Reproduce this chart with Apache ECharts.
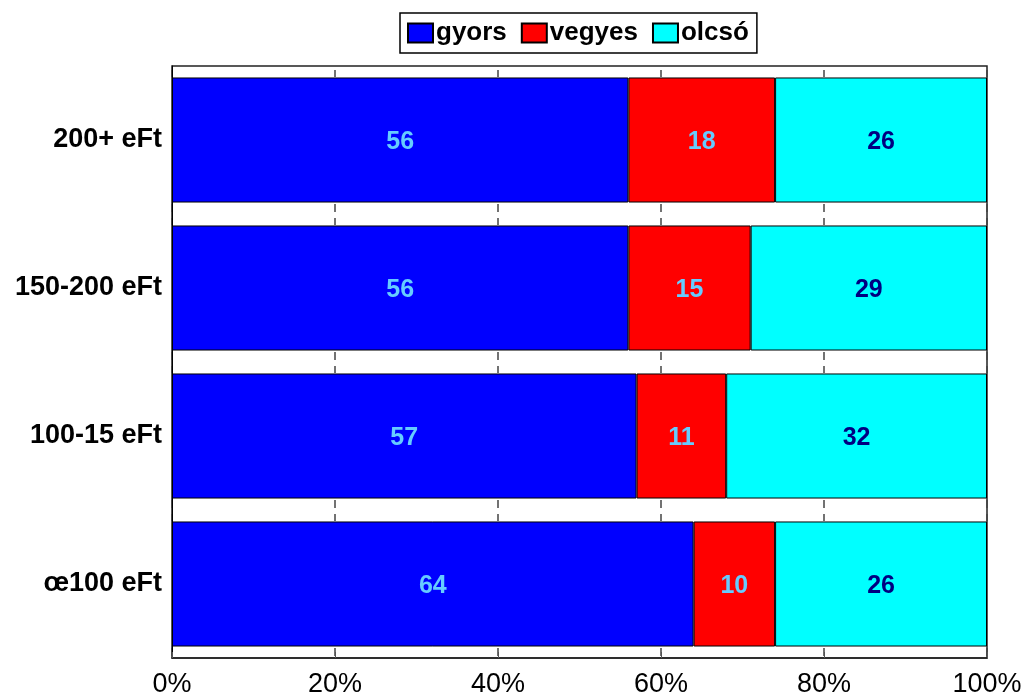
<!DOCTYPE html>
<html>
<head>
<meta charset="utf-8">
<script src="https://cdn.jsdelivr.net/npm/echarts@6/dist/echarts.min.js"></script>
<style>
  html, body { margin: 0; padding: 0; background: #fff; }
  #chart { width: 1028px; height: 700px; }
</style>
</head>
<body>
<div id="chart"></div>
<script>
  var FONT = 'Arial, "Liberation Sans", sans-serif';
  var categories = ["\u0153100 eFt", "100-15 eFt", "150-200 eFt", "200+ eFt"];
  var gyors = [64, 57, 56, 56];
  var vegyes = [10, 11, 15, 18];
  var olcso = [26, 32, 29, 26];
  var seriesNames = ["gyors", "vegyes", "olcs\u00f3"];
  var seriesColors = ["#0000ff", "#ff0000", "#00ffff"];
  var labelColors = ["#66ccff", "#66ccff", "#000080"];

  function bar(name, data, i) {
    return {
      name: name, type: "bar", stack: "total", data: data,
      barCategoryGap: "15.5%",
      itemStyle: { color: seriesColors[i], borderColor: "#000", borderWidth: 1 },
      label: { show: true, position: "inside", offset: [0, 2], color: labelColors[i], fontFamily: FONT, fontWeight: "bold", fontSize: 25 },
      emphasis: { disabled: true }
    };
  }

  var chart = echarts.init(document.getElementById("chart"), null, { renderer: "canvas" });
  chart.setOption({
    animation: false,
    legend: {
      left: 400, top: 13,
      padding: [7, 8, 7, 7],
      borderColor: "#000", borderWidth: 1.5,
      itemWidth: 25, itemHeight: 19, itemGap: 14,
      textStyle: { fontFamily: FONT, fontWeight: "bold", fontSize: 26, color: "#000", padding: [0, 0, 0, -2] },
      data: seriesNames.map(function (n) { return { name: n, icon: "rect" }; })
    },
    grid: { left: 172, right: 41, top: 66, height: 592, show: true, borderColor: "#222", borderWidth: 1.5, containLabel: false },
    xAxis: {
      type: "value", min: 0, max: 100, interval: 20,
      axisLine: { show: true, lineStyle: { color: "#222", width: 1.5 } },
      axisTick: { show: true, inside: true, length: 6, lineStyle: { color: "#555" } },
      axisLabel: { formatter: "{value}%", fontFamily: FONT, fontSize: 27, color: "#000", margin: 13 },
      splitLine: { show: true, lineStyle: { color: "#444", width: 1.5, type: [7, 127, 8, 6], dashOffset: 144 } }
    },
    yAxis: {
      type: "category", data: categories,
      axisLine: { show: true, lineStyle: { color: "#000" } },
      axisTick: { show: false },
      axisLabel: { fontFamily: FONT, fontWeight: "bold", fontSize: 27, color: "#000", margin: 10 }
    },
    series: [bar(seriesNames[0], gyors, 0), bar(seriesNames[1], vegyes, 1), bar(seriesNames[2], olcso, 2)]
  });
</script>
</body>
</html>
